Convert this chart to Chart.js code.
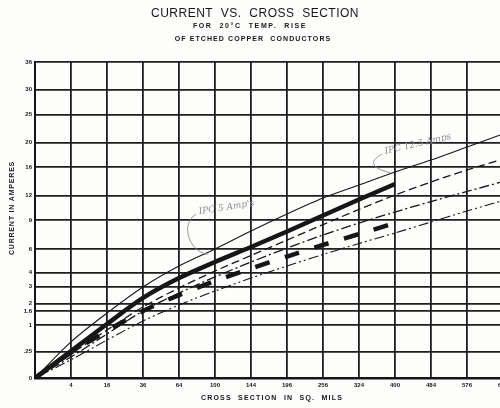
<!DOCTYPE html>
<html>
<head>
<meta charset="utf-8">
<script src="https://cdn.jsdelivr.net/npm/chart.js@4.4.0/dist/chart.umd.min.js"></script>
<style>
  html, body { margin: 0; padding: 0; background: #fdfdfc; overflow: hidden; width: 500px; height: 408px; }
  canvas { display: block; }
</style>
</head>
<body>
<canvas id="chart" width="520" height="408"></canvas>
<script>
// cross section in sq. mils, current in amperes (both axes are square-root scales)
const crossSection = [0, 4, 16, 36, 64, 100, 144, 196, 256, 324, 400, 484, 576, 676];
const thinSolid = [0, 0.47, 1.52, 2.99, 4.52, 6.0, 7.79, 9.7, 11.68, 13.43, 15.3, 17.13, 19.24, 21.46];
const heavySolid = [0, 0.26, 1.05, 2.31, 3.6, 4.85, 6.19, 7.74, 9.52, 11.49, 13.57];
const dashed = [0, 0.21, 0.83, 1.82, 2.92, 4.13, 5.41, 6.86, 8.49, 10.24, 12.07, 13.85, 15.6, 17.29];
const dashDot = [0, 0.16, 0.7, 1.62, 2.6, 3.68, 4.85, 6.09, 7.37, 8.66, 9.93, 11.23, 12.54, 13.92];
const heavyDashed = [0, 0.23, 0.8, 1.62, 2.48, 3.39, 4.32, 5.32, 6.38, 7.47, 8.66];
const dashDotDot = [0, 0.12, 0.52, 1.17, 1.92, 2.73, 3.6, 4.52, 5.5, 6.52, 7.58, 8.77, 10.05, 11.36];

const xTickValues = [0, 4, 16, 36, 64, 100, 144, 196, 256, 324, 400, 484, 576, 676];
const xTickLabels = ["", "4", "16", "36", "64", "100", "144", "196", "256", "324", "400", "484", "576", "676"];
const yTickValues = [0, 0.25, 1, 1.6, 2, 3, 4, 6, 9, 12, 16, 20, 25, 30, 36];
const yTickLabels = ["0", ".25", "1", "1.6", "2", "3", "4", "6", "9", "12", "16", "20", "25", "30", "36"];

// handwritten notes: [sq mils, amps] of the text start and of the leader end
const notes = [
  { text: "IPC 5 Amp's", at: [81, 9.9], to: [92, 5.5], angle: -9 },
  { text: "IPC 12.5 Amps", at: [374, 18.4], to: [389, 15.2], angle: -13 }
];

const INK = "#161616";
const LABEL_FONT = '"Liberation Sans", "DejaVu Sans", sans-serif';

function toPoints(values) {
  return values.map((v, i) => ({ x: Math.sqrt(crossSection[i]), y: Math.sqrt(v) }));
}

function line(values, width, dash) {
  return {
    data: toPoints(values),
    borderColor: INK,
    borderWidth: width,
    borderDash: dash,
    borderCapStyle: "butt",
    pointRadius: 0,
    fill: false,
    tension: 0.3
  };
}

const textPlugin = {
  id: "texts",
  afterDraw(chart) {
    const ctx = chart.ctx;
    const xs = chart.scales.x, ys = chart.scales.y;
    ctx.save();
    ctx.fillStyle = INK;
    ctx.textAlign = "center";
    ctx.textBaseline = "middle";

    ctx.font = "12px " + LABEL_FONT;
    ctx.letterSpacing = "0.5px";
    ctx.fillText("CURRENT  VS.  CROSS  SECTION", 255, 14);
    ctx.font = "bold 7px " + LABEL_FONT;
    ctx.letterSpacing = "1.6px";
    ctx.fillText("FOR  20°C  TEMP.  RISE", 250, 26);
    ctx.letterSpacing = "1.1px";
    ctx.fillText("OF ETCHED COPPER  CONDUCTORS", 253, 39);

    // axis titles
    ctx.font = "bold 7px " + LABEL_FONT;
    ctx.letterSpacing = "1.2px";
    ctx.fillText("CROSS  SECTION  IN  SQ.  MILS", 272, 398);
    ctx.save();
    ctx.translate(12, 208);
    ctx.rotate(-Math.PI / 2);
    ctx.letterSpacing = "0.8px";
    ctx.fillText("CURRENT IN AMPERES", 0, 0);
    ctx.restore();

    // pencil notes
    ctx.letterSpacing = "0px";
    ctx.strokeStyle = "#8c8c8c";
    ctx.fillStyle = "#8c8c8c";
    ctx.lineWidth = 0.9;
    ctx.font = "italic 9px \"DejaVu Serif\", serif";
    ctx.textAlign = "left";
    notes.forEach(n => {
      const px = xs.getPixelForValue(Math.sqrt(n.at[0]));
      const py = ys.getPixelForValue(Math.sqrt(n.at[1]));
      const ex = xs.getPixelForValue(Math.sqrt(n.to[0]));
      const ey = ys.getPixelForValue(Math.sqrt(n.to[1]));
      ctx.save();
      ctx.translate(px, py);
      ctx.rotate(n.angle * Math.PI / 180);
      ctx.fillText(n.text, 2, 0);
      ctx.restore();
      ctx.beginPath();
      ctx.moveTo(px - 1, py + 2);
      ctx.bezierCurveTo(px - 16, py + 10, px - 10, ey - 4, ex, ey);
      ctx.stroke();
    });
    ctx.restore();
  }
};

new Chart(document.getElementById("chart"), {
  type: "line",
  data: {
    datasets: [
      line(thinSolid, 1.1, []),
      line(heavySolid, 4.5, []),
      line(dashed, 1.3, [8, 4]),
      line(dashDot, 1.3, [10, 3, 2, 3]),
      line(heavyDashed, 4.5, [15, 16]),
      line(dashDotDot, 1.1, [10, 3, 2, 3, 2, 3])
    ]
  },
  options: {
    responsive: false,
    animation: false,
    layout: { padding: { top: 62, right: 17, left: 0, bottom: 0 } },
    plugins: { legend: { display: false }, title: { display: false }, tooltip: { enabled: false } },
    scales: {
      x: {
        type: "linear",
        min: 0,
        max: 26,
        afterBuildTicks: s => { s.ticks = xTickValues.map(v => ({ value: Math.sqrt(v) })); },
        afterFit: s => { s.height = 30; s.paddingLeft = 0; s.paddingRight = 0; },
        ticks: {
          autoSkip: false,
          maxRotation: 0,
          padding: 4,
          color: INK,
          font: { family: LABEL_FONT, size: 6, weight: "bold" },
          callback: (v, i) => xTickLabels[i]
        },
        grid: { color: "#1e1e1e", lineWidth: 1.8, drawTicks: false },
        border: { color: INK, width: 2.4 }
      },
      y: {
        type: "linear",
        min: 0,
        max: 6,
        afterBuildTicks: s => { s.ticks = yTickValues.map(v => ({ value: Math.sqrt(v) })); },
        afterFit: s => { s.width = 35; s.paddingTop = 0; s.paddingBottom = 0; },
        ticks: {
          autoSkip: false,
          padding: 3,
          color: INK,
          font: { family: LABEL_FONT, size: 6, weight: "bold" },
          callback: (v, i) => yTickLabels[i]
        },
        grid: { color: "#1e1e1e", lineWidth: 1.8, drawTicks: false },
        border: { color: INK, width: 2 }
      }
    }
  },
  plugins: [textPlugin]
});
</script>
</body>
</html>
